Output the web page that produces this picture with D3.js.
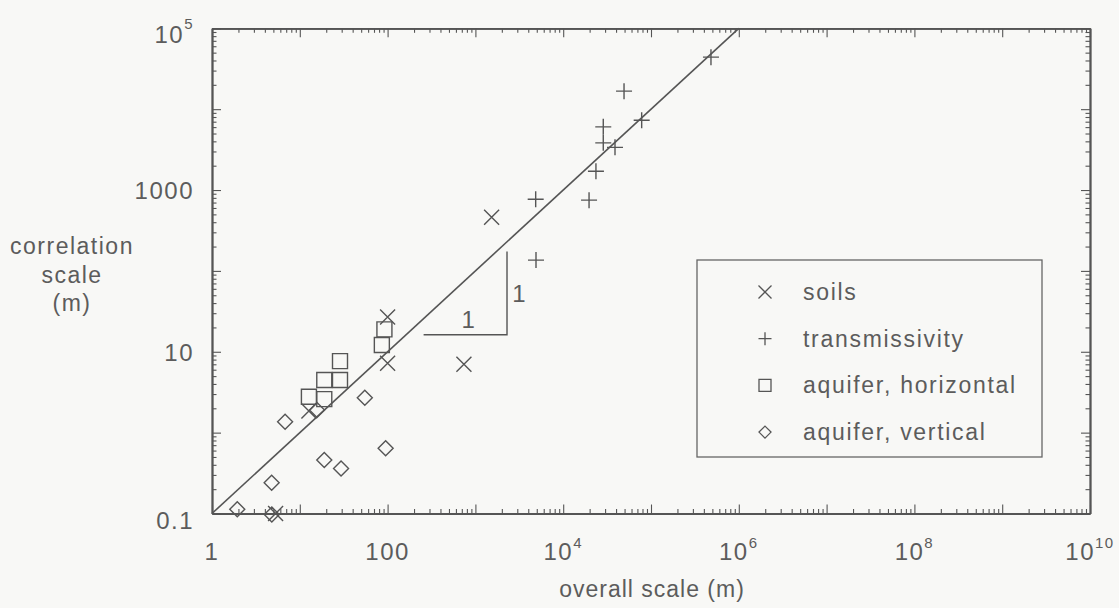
<!DOCTYPE html>
<html>
<head>
<meta charset="utf-8">
<script src="https://cdn.jsdelivr.net/npm/d3@7"></script>
<style>
  html, body { margin: 0; padding: 0; background: #f8f8f6; }
  svg { display: block; }
  text { font-family: "Liberation Sans", Arial, Helvetica, sans-serif; fill: #5c5c5c; }
</style>
</head>
<body>
<svg id="chart" width="1119" height="608"></svg>
<script>
// Correlation scale vs. overall scale, grouped by data type (metres)
const soils = [
  [5.3, 0.1], [12.7, 1.85], [100, 27], [100, 7.2], [740, 7.0], [1530, 460]
];
const transmissivity = [
  [4860, 770], [4900, 136], [19700, 750], [23600, 1710], [28600, 6040],
  [28600, 3830], [38900, 3370], [49300, 16700], [78300, 7300], [482000, 44000]
];
const aquiferHorizontal = [
  [12.7, 2.78], [19, 2.6], [19, 4.47], [28.7, 4.47], [28.7, 7.67], [92, 18.9], [86, 12.1]
];
const aquiferVertical = [
  [1.94, 0.113], [4.8, 0.097], [4.78, 0.24], [6.8, 1.36], [15.7, 1.9],
  [19, 0.46], [29.5, 0.36], [55, 2.7], [95, 0.64]
];
// Reference line: correlation scale = overall scale / 10
const fitLine = [[1, 0.1], [1e6, 1e5]];
// Slope triangle corners: horizontal leg then vertical leg
const slopeTriangle = [[10 ** 2.41, 10 ** 1.21], [10 ** 3.36, 10 ** 1.21], [10 ** 3.36, 10 ** 2.24]];

const xTickLabels = [[1, "1", ""], [100, "100", ""], [1e4, "10", "4"], [1e6, "10", "6"], [1e8, "10", "8"], [1e10, "10", "10"]];
const yTickLabels = [[0.1, "0.1", ""], [10, "10", ""], [1000, "1000", ""], [1e5, "10", "5"]];
const legendItems = ["soils", "transmissivity", "aquifer, horizontal", "aquifer, vertical"];

const ink = "#555";
const svg = d3.select("#chart");

const x = d3.scaleLog().domain([1, 1e10]).range([212, 1090]);
const y = d3.scaleLog().domain([0.1, 1e5]).range([513.5, 28.3]);

// Major and minor tick values for log axes
function logTicks(lo, hi) {
  const major = [], minor = [];
  const e0 = Math.round(Math.log10(lo)), e1 = Math.round(Math.log10(hi));
  for (let e = e0; e <= e1; e++) {
    major.push(10 ** e);
    if (e < e1) for (let k = 2; k <= 9; k++) minor.push(k * 10 ** e);
  }
  return { major, minor };
}
const xt = logTicks(1, 1e10), yt = logTicks(0.1, 1e5);

function drawAxis(gen, scale, vals, size, transform) {
  const g = svg.append("g").attr("transform", transform)
    .call(gen(scale).tickValues(vals).tickSize(size).tickFormat("").tickSizeOuter(0));
  g.selectAll("path.domain").attr("stroke", ink).attr("stroke-width", 1.8);
  g.selectAll(".tick line").attr("stroke", ink).attr("stroke-width", 1.1);
  return g;
}
const [x0, x1] = x.range(), [y0, y1] = y.range();
// Ticks on all four sides, pointing inward
const MAJ = -9, MIN = -4.5;
drawAxis(d3.axisBottom, x, xt.minor, MIN, `translate(0,${y0})`);
drawAxis(d3.axisBottom, x, xt.major, MAJ, `translate(0,${y0})`);
drawAxis(d3.axisTop, x, xt.minor, MIN, `translate(0,${y1})`);
drawAxis(d3.axisTop, x, xt.major, MAJ, `translate(0,${y1})`);
drawAxis(d3.axisLeft, y, yt.minor, MIN, `translate(${x0},0)`);
drawAxis(d3.axisLeft, y, yt.major, MAJ, `translate(${x0},0)`);
drawAxis(d3.axisRight, y, yt.minor, MIN, `translate(${x1},0)`);
drawAxis(d3.axisRight, y, yt.major, MAJ, `translate(${x1},0)`);

const FS = "24px", SUP = "15px", LS = "1.5px";

// Tick labels with superscript exponents
xTickLabels.forEach(([v, base, sup]) => {
  const t = svg.append("text").attr("x", x(v)).attr("y", 560)
    .attr("text-anchor", "middle").style("font-size", FS).style("letter-spacing", LS);
  t.append("tspan").text(base);
  if (sup) t.append("tspan").attr("dy", -12).style("font-size", SUP).text(sup);
});
yTickLabels.forEach(([v, base, sup]) => {
  const edge = (v === 0.1 || v === 1e5);
  const t = svg.append("text").attr("x", 194).attr("y", y(v) + (edge ? 15 : 9))
    .attr("text-anchor", "end").style("font-size", FS).style("letter-spacing", LS);
  t.append("tspan").text(base);
  if (sup) t.append("tspan").attr("dy", -14).style("font-size", SUP).text(sup);
});

// Axis titles
svg.append("text").attr("x", 652).attr("y", 597).attr("text-anchor", "middle")
  .style("font-size", "23px").style("letter-spacing", "1px").text("overall scale (m)");
const yTitle = svg.append("text").attr("text-anchor", "middle")
  .style("font-size", "23px").style("letter-spacing", LS);
[["correlation", 254], ["scale", 283], ["(m)", 311]].forEach(([s, yy]) =>
  yTitle.append("tspan").attr("x", 72).attr("y", yy).text(s));

const line = d3.line().x(d => x(d[0])).y(d => y(d[1]));
svg.append("path").attr("d", line(fitLine)).attr("fill", "none")
  .attr("stroke", ink).attr("stroke-width", 1.6);
svg.append("path").attr("d", line(slopeTriangle)).attr("fill", "none")
  .attr("stroke", ink).attr("stroke-width", 1.4);
svg.append("text").attr("x", (x(slopeTriangle[0][0]) + x(slopeTriangle[1][0])) / 2 + 3)
  .attr("y", y(slopeTriangle[0][1]) - 7).attr("text-anchor", "middle")
  .style("font-size", FS).text("1");
svg.append("text").attr("x", x(slopeTriangle[1][0]) + 12)
  .attr("y", (y(slopeTriangle[1][1]) + y(slopeTriangle[2][1])) / 2 + 9).attr("text-anchor", "middle")
  .style("font-size", FS).text("1");

// Marker shapes
const shapes = {
  cross: r => `M${-r},${-r}L${r},${r}M${-r},${r}L${r},${-r}`,
  plus: r => `M${-r},0L${r},0M0,${-r}L0,${r}`,
  square: r => `M${-r},${-r}H${r}V${r}H${-r}Z`,
  diamond: r => `M0,${-r}L${r},0L0,${r}L${-r},0Z`
};
const series = [
  { data: soils, shape: "cross", r: 7.5 },
  { data: transmissivity, shape: "plus", r: 8 },
  { data: aquiferHorizontal, shape: "square", r: 7.5 },
  { data: aquiferVertical, shape: "diamond", r: 7.5 }
];
series.forEach(s => {
  svg.append("g").selectAll("path").data(s.data).join("path")
    .attr("transform", d => `translate(${x(d[0])},${y(d[1])})`)
    .attr("d", shapes[s.shape](s.r))
    .attr("fill", "none").attr("stroke", ink).attr("stroke-width", 1.4);
});

// Legend
const lg = svg.append("g");
lg.append("rect").attr("x", 697).attr("y", 260).attr("width", 345).attr("height", 197)
  .attr("fill", "none").attr("stroke", "#666").attr("stroke-width", 1.3);
legendItems.forEach((name, i) => {
  const cy = 292 + i * 46.7;
  const legR = [6.5, 6.5, 6, 6][i];
  lg.append("path").attr("transform", `translate(765,${cy})`)
    .attr("d", shapes[series[i].shape](legR))
    .attr("fill", "none").attr("stroke", ink).attr("stroke-width", 1.3);
  lg.append("text").attr("x", 803).attr("y", cy + 8)
    .style("font-size", "23px").style("letter-spacing", "1.7px").text(name);
});
</script>
</body>
</html>
